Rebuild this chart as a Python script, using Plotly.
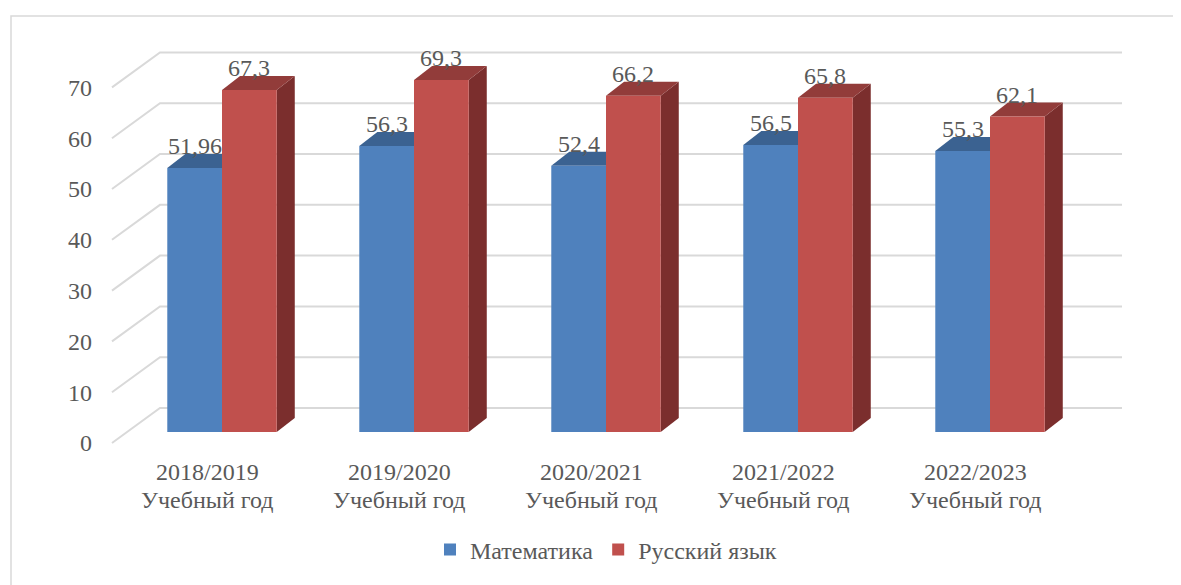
import plotly.graph_objects as go

# ---------------- data ----------------
categories = ["2018/2019<br>Учебный год", "2019/2020<br>Учебный год", "2020/2021<br>Учебный год",
              "2021/2022<br>Учебный год", "2022/2023<br>Учебный год"]
series_names = ["Математика", "Русский язык"]
math_vals = [51.96, 56.3, 52.4, 56.5, 55.3]
rus_vals = [67.3, 69.3, 66.2, 65.8, 62.1]
y_ticks = [0, 10, 20, 30, 40, 50, 60, 70]

# ---------------- style / geometry ----------------
FONT = "Liberation Serif"
TXT = "#595959"
FS = 24
GRID = "#d9d9d9"
front_cols = ["#4f81bd", "#c0504d"]
top_cols = ["#3b6291", "#923c3a"]
side_cols = ["#2f4e74", "#7b2e2d"]

BAR_W = 0.285
DEPTH_DU, DEPTH_DV = 0.094, 2.76      # bar depth (x units, value units)
BACK_DU, BACK_DV = 0.172, 4.72        # back wall relative to bar front plane
FLOOR_DU, FLOOR_DV = -0.078, -2.165   # floor front edge relative to bar front plane
WALL_LEFT, WALL_RIGHT = -0.573, 4.6875

FIG_W, FIG_H = 1181, 585
L, R, T, B = 92, 1132, 22, 442        # page coords minus 8px body margin
X_RANGE = [-0.63542, 4.78125]
Y_RANGE = [-3.543, 79.134]

xs = list(range(len(categories)))

fig = go.Figure()
offsets = [-BAR_W, 0.0]
for s, (name, vals) in enumerate(zip(series_names, [math_vals, rus_vals])):
    fig.add_trace(go.Bar(
        x=xs, y=vals, name=name, width=BAR_W, offset=offsets[s],
        marker=dict(color=front_cols[s], line=dict(width=0)),
        hoverinfo="skip",
    ))

shapes = []
# back wall grid lines with left-side diagonals
for t in y_ticks:
    path = (f"M{WALL_LEFT},{t + FLOOR_DV} "
            f"L{WALL_LEFT + BACK_DU - FLOOR_DU},{t + BACK_DV} "
            f"L{WALL_RIGHT},{t + BACK_DV}")
    shapes.append(dict(type="path", path=path, xref="x", yref="y", layer="below",
                       line=dict(color=GRID, width=2)))

# 3D faces (top and side) of bars
for s, vals in enumerate([math_vals, rus_vals]):
    for i, v in zip(xs, vals):
        x0 = i + offsets[s]
        x1 = x0 + BAR_W
        side = (f"M{x1},0 L{x1},{v} L{x1 + DEPTH_DU},{v + DEPTH_DV} "
                f"L{x1 + DEPTH_DU},{DEPTH_DV} Z")
        top = (f"M{x0},{v} L{x1},{v} L{x1 + DEPTH_DU},{v + DEPTH_DV} "
               f"L{x0 + DEPTH_DU},{v + DEPTH_DV} Z")
        shapes.append(dict(type="path", path=side, xref="x", yref="y", layer="below",
                           fillcolor=side_cols[s], line=dict(width=0)))
        shapes.append(dict(type="path", path=top, xref="x", yref="y", layer="below",
                           fillcolor=top_cols[s], line=dict(width=0)))

# chart border (only left and top edges fall inside the picture)
W_PLOT, H_PLOT = R - L, B - T
bx0, bx1 = (3 - L) / W_PLOT, (FIG_W - L) / W_PLOT
by0, by1 = (B - FIG_H) / H_PLOT, (B - 8) / H_PLOT
shapes.append(dict(type="path", xref="paper", yref="paper",
                   path=f"M{bx0},{by0} L{bx0},{by1} L{bx1},{by1}",
                   line=dict(color=GRID, width=1.5), layer="below"))

annotations = []
# data labels
for s, vals in enumerate([math_vals, rus_vals]):
    for i, v in zip(xs, vals):
        annotations.append(dict(
            x=i + offsets[s] + BAR_W / 2, y=v + DEPTH_DV, xref="x", yref="y",
            text=f"{v}".replace(".", ","), showarrow=False,
            xanchor="center", yanchor="bottom", yshift=-7,
            font=dict(family=FONT, size=FS, color=TXT)))
# category labels (two lines each)
LINE_SHIFTS = [-29, -57]
for i, c in zip(xs, categories):
    for part, ys in zip(c.split("<br>"), LINE_SHIFTS):
        annotations.append(dict(
            x=i + FLOOR_DU, y=FLOOR_DV, xref="x", yref="y", text=part, showarrow=False,
            xanchor="center", yanchor="middle", yshift=ys,
            font=dict(family=FONT, size=FS, color=TXT)))

fig.update_layout(
    width=FIG_W, height=FIG_H,
    margin=dict(l=L, r=FIG_W - R, t=T, b=FIG_H - B),
    paper_bgcolor="white", plot_bgcolor="white",
    barmode="group",
    showlegend=True,
    legend=dict(orientation="h", x=(422 - L) / W_PLOT, xanchor="left",
                y=(B - 542) / H_PLOT, yanchor="middle",
                font=dict(family=FONT, size=FS, color=TXT)),
    xaxis=dict(range=X_RANGE, visible=False, fixedrange=True),
    yaxis=dict(range=Y_RANGE, showgrid=False, zeroline=False, showline=False,
               tickvals=[t + FLOOR_DV for t in y_ticks], ticktext=[str(t) for t in y_ticks],
               ticks="", ticklabelstandoff=7,
               tickfont=dict(family=FONT, size=FS, color=TXT), fixedrange=True),
    shapes=shapes,
    annotations=annotations,
)

fig.write_html("out.html")
